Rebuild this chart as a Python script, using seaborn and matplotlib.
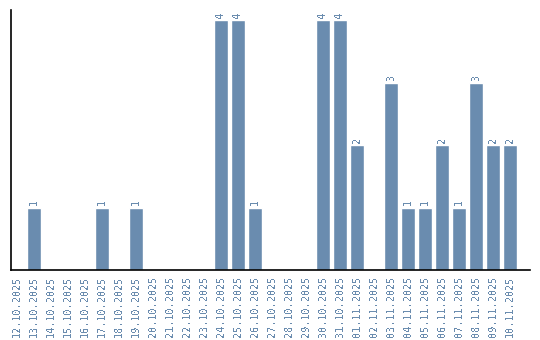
import matplotlib
matplotlib.use("Agg")
import matplotlib.pyplot as plt
import seaborn as sns
import pandas as pd

dates = ["12.10.2025", "13.10.2025", "14.10.2025", "15.10.2025", "16.10.2025",
         "17.10.2025", "18.10.2025", "19.10.2025", "20.10.2025", "21.10.2025",
         "22.10.2025", "23.10.2025", "24.10.2025", "25.10.2025", "26.10.2025",
         "27.10.2025", "28.10.2025", "29.10.2025", "30.10.2025", "31.10.2025",
         "01.11.2025", "02.11.2025", "03.11.2025", "04.11.2025", "05.11.2025",
         "06.11.2025", "07.11.2025", "08.11.2025", "09.11.2025", "10.11.2025"]
counts = [0, 1, 0, 0, 0, 1, 0, 1, 0, 0, 0, 0, 4, 4, 1, 0, 0, 0, 4, 4,
          2, 0, 3, 1, 1, 2, 1, 3, 2, 2]

df = pd.DataFrame({"date": dates, "count": counts})

sns.set_style("white")
plt.rcParams['font.family'] = ['DejaVu Sans Mono']
plt.rcParams['text.antialiased'] = False

bar_color = "#6a8caf"
text_color = "#6a8caf"

fig = plt.figure(figsize=(5.4, 3.4), dpi=100)
ax = fig.add_axes([11/540, 70/340, 519/540, 260/340])

sns.barplot(data=df, x="date", y="count", color=bar_color, saturation=1,
            width=0.82, ax=ax)

for i, v in enumerate(counts):
    if v > 0:
        ax.text(i, v + 0.04, str(v), rotation=90, ha="center", va="bottom",
                fontsize=7.3, color=text_color)

ax.set_xlim(-0.353, 30.18)
ax.set_ylim(0, 4.16)
ax.set_yticks([])
ax.set_xlabel("")
ax.set_ylabel("")
ax.tick_params(axis="x", length=0, pad=4, labelsize=7.3, labelcolor=text_color)
plt.setp(ax.get_xticklabels(), rotation=90)
for s in ["top", "right"]:
    ax.spines[s].set_visible(False)
for s in ["left", "bottom"]:
    ax.spines[s].set_color("black")
    ax.spines[s].set_linewidth(1.2)

fig.savefig("out.png", dpi=100)
